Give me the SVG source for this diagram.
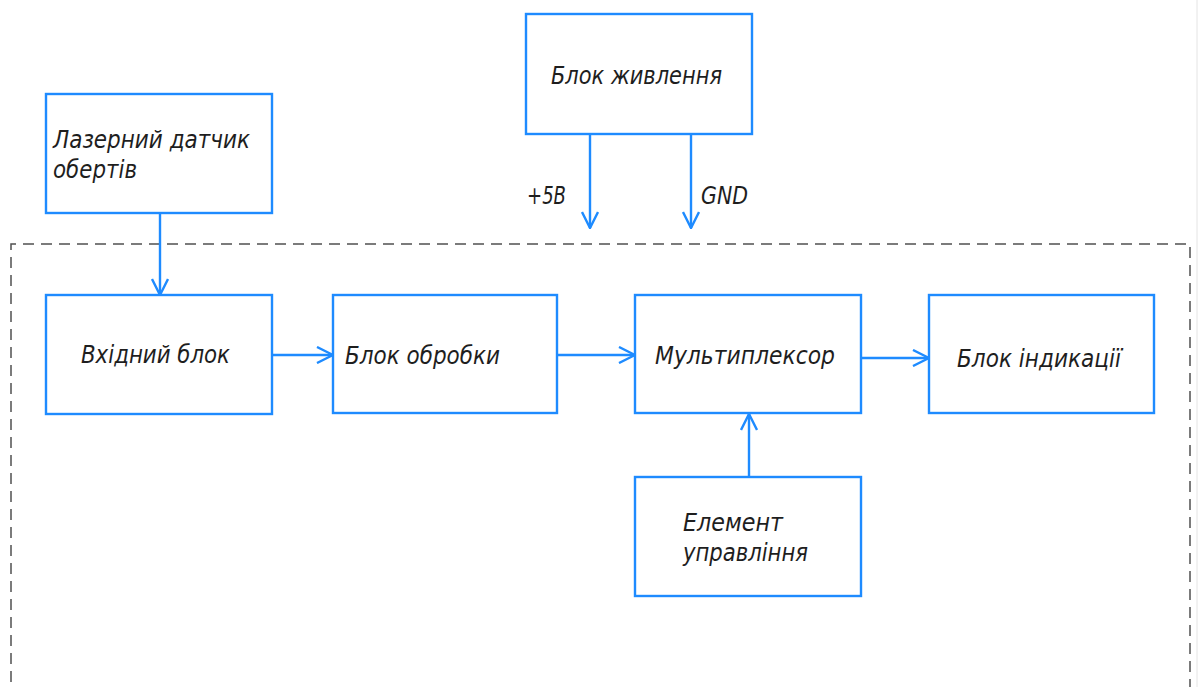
<svg xmlns="http://www.w3.org/2000/svg" width="1200" height="687" viewBox="0 0 1200 687">
<defs>
<style>
.box{fill:#fff;stroke:#1e8bff;stroke-width:2.4}
.ln{fill:none;stroke:#1e8bff;stroke-width:2.4}
.t{font-family:"DejaVu Sans Condensed","DejaVu Sans","Liberation Sans",sans-serif;font-style:italic;font-size:25px;fill:#1e1e1e;font-weight:normal}
.frame{fill:none;stroke:#505050;stroke-width:1.5;stroke-dasharray:11 7}
</style>
<marker id="arr" viewBox="0 0 18 18" refX="17" refY="9" markerWidth="18" markerHeight="18" markerUnits="userSpaceOnUse" orient="auto">
<path d="M1,1 L17,9 L1,17" fill="none" stroke="#1e8bff" stroke-width="2.4"/>
</marker>
</defs>
<rect width="1200" height="687" fill="#fff"/>
<path class="frame" d="M11,700 L11,244 L1190,244 L1190,700"/>
<line x1="1197" y1="0" x2="1197" y2="687" stroke="#e4e4e4" stroke-width="1"/>
<g id="connectors">
<line class="ln" x1="160" y1="213" x2="160" y2="295" marker-end="url(#arr)"/>
<line class="ln" x1="590" y1="134" x2="590" y2="228" marker-end="url(#arr)"/>
<line class="ln" x1="691" y1="134" x2="691" y2="228" marker-end="url(#arr)"/>
<line class="ln" x1="272" y1="355" x2="333" y2="355" marker-end="url(#arr)"/>
<line class="ln" x1="557" y1="355" x2="635" y2="355" marker-end="url(#arr)"/>
<line class="ln" x1="861" y1="358" x2="929" y2="358" marker-end="url(#arr)"/>
<line class="ln" x1="749" y1="477" x2="749" y2="414" marker-end="url(#arr)"/>
<text class="t" x="527" y="204" textLength="39" lengthAdjust="spacingAndGlyphs">+5В</text>
<text class="t" x="701" y="204" textLength="47" lengthAdjust="spacingAndGlyphs">GND</text>
</g>
<g id="laser">
<rect class="box" x="46" y="94" width="226" height="119"/>
<text class="t" x="53" y="148" textLength="197" lengthAdjust="spacingAndGlyphs">Лазерний датчик</text>
<text class="t" x="53" y="178" textLength="84" lengthAdjust="spacingAndGlyphs">обертів</text>
</g>
<g id="power">
<rect class="box" x="526" y="14" width="226" height="120"/>
<text class="t" x="551" y="84" textLength="171" lengthAdjust="spacingAndGlyphs">Блок живлення</text>
</g>
<g id="input">
<rect class="box" x="46" y="295" width="226" height="119"/>
<text class="t" x="81" y="363" textLength="149" lengthAdjust="spacingAndGlyphs">Вхідний блок</text>
</g>
<g id="processing">
<rect class="box" x="333" y="295" width="224" height="118"/>
<text class="t" x="345" y="364" textLength="155" lengthAdjust="spacingAndGlyphs">Блок обробки</text>
</g>
<g id="mux">
<rect class="box" x="635" y="295" width="226" height="118"/>
<text class="t" x="655" y="364" textLength="180" lengthAdjust="spacingAndGlyphs">Мультиплексор</text>
</g>
<g id="indication">
<rect class="box" x="929" y="295" width="225" height="118"/>
<text class="t" x="957" y="367" textLength="164" lengthAdjust="spacingAndGlyphs">Блок індикації</text>
</g>
<g id="control">
<rect class="box" x="635" y="477" width="226" height="119"/>
<text class="t" x="683" y="531" textLength="100" lengthAdjust="spacingAndGlyphs">Елемент</text>
<text class="t" x="683" y="561" textLength="125" lengthAdjust="spacingAndGlyphs">управління</text>
</g>
</svg>
